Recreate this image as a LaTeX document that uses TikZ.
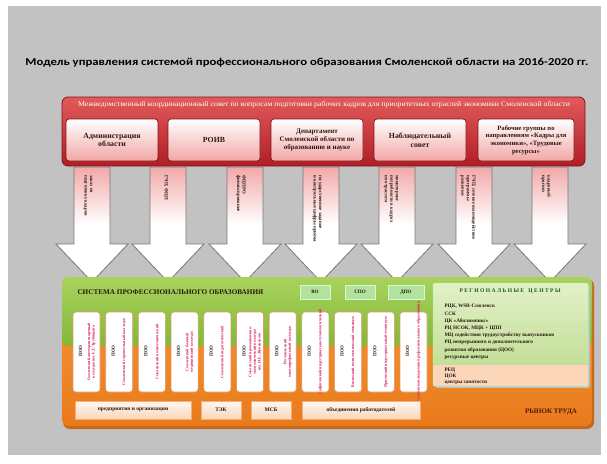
\documentclass[tikz,border=0pt]{standalone}
\usepackage{fontspec}
\setmainfont{Liberation Serif}
\newfontfamily\titlefont{Carlito}
\definecolor{bggray}{HTML}{C2C2C2}
\definecolor{redtop}{HTML}{E25A5A}
\definecolor{redbot}{HTML}{B01E26}
\definecolor{redline}{HTML}{7E1418}
\definecolor{pinkb}{HTML}{F2A6A6}
\definecolor{arrpink}{HTML}{F2A8A8}
\definecolor{arrline}{HTML}{777777}
\definecolor{greentop}{HTML}{A9D25C}
\definecolor{greenbot}{HTML}{82B83A}
\definecolor{orangetop}{HTML}{F59A3C}
\definecolor{orangebot}{HTML}{E97A1C}
\definecolor{colline}{HTML}{E39A6A}
\definecolor{coltext}{HTML}{D8175A}
\definecolor{regtop}{HTML}{E2F0C8}
\definecolor{regbot}{HTML}{C3DF98}
\definecolor{peach}{HTML}{FBD6B8}
\definecolor{darktext}{HTML}{2A1A10}
\pgfdeclareverticalshading{arrshade}{100bp}{color(0bp)=(white); color(50bp)=(white); color(75bp)=(arrpink); color(100bp)=(arrpink)}
\begin{document}
\begin{tikzpicture}[x=1pt,y=-1pt,
  inbox/.style={draw=redline, line width=0.7pt, rounded corners=3pt, top color=white, bottom color=pinkb,
    minimum width=92pt, minimum height=42pt, align=center, text=darktext,
    font=\bfseries\fontsize{7.8}{8.6}\selectfont},
  arrowshape/.style={draw=arrline, line width=0.8pt, shading=arrshade},
  arrtext/.style={rotate=-90, anchor=west, align=left, text=darktext, font=\bfseries\fontsize{4.8}{5.4}\selectfont},
  colbox/.style={draw=colline, line width=0.6pt, rounded corners=3pt, fill=white, minimum width=27pt, minimum height=80pt},
  collabel/.style={rotate=90, font=\bfseries\fontsize{4.8}{5}\selectfont, text=darktext},
  coltxt/.style={rotate=90, align=center, font=\bfseries\fontsize{4}{4.6}\selectfont, text=coltext},
  smallbox/.style={draw=white!80!green, line width=0.5pt, fill=white!85!yellow!70!green, minimum height=14pt,
    font=\bfseries\fontsize{5}{6}\selectfont, text=darktext},
  botbox/.style={draw=orangebot!60!white, line width=0.5pt, top color=white!80!peach, bottom color=peach,
    minimum height=18pt, font=\bfseries\fontsize{5.5}{6}\selectfont, text=darktext},
  reglist/.style={anchor=west, font=\bfseries\fontsize{5.2}{5.6}\selectfont, text=darktext}]
\useasboundingbox (0,0) rectangle (607,463);
\fill[white] (0,0) rectangle (607,463);
\fill[bggray] (8,6) rectangle (601,455);

% title
\node[font=\titlefont\bfseries\fontsize{10.6}{12}\selectfont, text=black, xscale=1.2] (title) at (307,63)
  {Модель управления системой профессионального образования Смоленской области на 2016-2020 гг.};

% red council box
\draw[redline, line width=0.8pt, rounded corners=6pt, top color=redtop, bottom color=redbot] (62,97) rectangle (585,166);
\node[text=white, font=\fontsize{7.2}{8}\selectfont, xscale=1.09] (council) at (324,105)
  {Межведомственный координационный совет по вопросам подготовки рабочих кадров для приоритетных отраслей экономики Смоленской области};
\node[inbox] (b1) at (112,140) {Администрация\\области};
\node[inbox] (b2) at (214,140) {РОИВ};
\node[inbox, font=\bfseries\fontsize{7}{8}\selectfont] (b3) at (317,140) {Департамент\\Смоленской области по\\образованию и науке};
\node[inbox] (b4) at (420,140) {Наблюдательный\\совет};
\node[inbox, minimum width=96pt, font=\bfseries\fontsize{6.6}{7.6}\selectfont] (b5) at (526,140) {Рабочие группы по\\направлениям «Кадры для\\экономики», «Трудовые\\ресурсы»};

% arrows
\foreach \cx/\nm in {92/a1,168/a2,245/a3,321/a4,397/a5,474/a6,550/a7}{
  \draw[arrowshape] (\cx-18,167) -- (\cx+18,167) -- (\cx+18,244) -- (\cx+36,244) -- (\cx,282)
     -- (\cx-36,244) -- (\cx-18,244) -- cycle;
  \coordinate (\nm) at (\cx,172);
}
\node[arrtext] (t1) at ([xshift=-4pt]a1) {заказ на\\подготовку кадров};
\node[arrtext] (t2) at ([xshift=-2pt]a2) {ГЧП, ФЦП};
\node[arrtext] (t3) at ([xshift=-4pt]a3) {ФЦПРО\\финансирование};
\node[arrtext] (t4) at ([xshift=-4pt]a4) {государственное задание\\и контрольные цифры приема};
\node[arrtext] (t5) at ([xshift=-6pt]a5) {мониторинг\\потребности в кадрах\\по отраслям};
\node[arrtext] (t6) at ([xshift=-6pt]a6) {ГЧП, сетевое взаимодействие\\программы\\развития};
\node[arrtext] (t7) at ([xshift=-4pt]a7) {кадровый\\прогноз};

% orange market panel and green system panel
\fill[orangebot!85!black, rounded corners=7pt] (63,279) rectangle (594,429);
\shade[top color=orangetop, bottom color=orangebot, rounded corners=7pt] (62,277) rectangle (592,426);
\shade[top color=greentop, bottom color=greenbot, rounded corners=7pt] (62,277) -- (592,277) -- (592,346) -- (62,346) -- cycle;
\node[anchor=west, font=\bfseries\fontsize{7.2}{8}\selectfont, text=darktext] (sys) at (74,292)
  {СИСТЕМА ПРОФЕССИОНАЛЬНОГО ОБРАЗОВАНИЯ};
\node[smallbox, minimum width=30pt] (vo) at (315,292) {ВО};
\node[smallbox, minimum width=30pt] (spo) at (360,292) {СПО};
\node[smallbox, minimum width=36pt] (dpo) at (406,292) {ДПО};

% regional centres box
\fill[black!25, rounded corners=2pt] (435,285) rectangle (590,388);
\shade[top color=regtop, bottom color=regbot, rounded corners=2pt] (433,283) rectangle (588,365);
\fill[peach] (433,365) rectangle (588,386);
\draw[white!70!green, line width=0.5pt, rounded corners=2pt] (433,283) rectangle (588,386);
\node[font=\bfseries\fontsize{5.6}{6}\selectfont, text=darktext!70!green] (regtitle) at (510,291)
  {Р Е Г И О Н А Л Ь Н Ы Е \ \ Ц Е Н Т Р Ы};
\foreach \ln [count=\i] in {{РЦК, WSR-Смоленск},{ССК},{ЦК «Абилимпикс»},{РЦ НСОК, МЦК + ЦПП},
  {МЦ содействия трудоустройству выпускников},{РЦ непрерывного и дополнительного},
  {развития образования (ЦОО)},{ресурсные центры}}{
  \node[reglist] (r\i) at (441,299+7.3*\i) {\ln};
}
\node[reglist] (p1) at (441,370) {РЕЦ};
\node[reglist] (p2) at (441,376.5) {ЦОК};
\node[reglist] (p3) at (441,383) {центры занятости};

% college columns
\foreach \lab/\txt [count=\i] in {
  ПОО/{Смоленский автотранспортный\\колледж им. Е.Г. Трубицына},
  ПОО/{Смоленский строительный колледж},
  ПОО/{Смоленский политехнический},
  ПОО/{Смоленский базовый\\медицинский колледж},
  ПОО/{Смоленский педагогический},
  ПОО/{Смоленский промышленно-\\экономический колледж\\им. Н.Е. Жуковского},
  ПОО/{Рославльский\\многопрофильный колледж},
  ПОО/{Сафоновский индустриально-технологический},
  ПОО/{Вяземский политехнический техникум},
  ПОО/{Ярцевский индустриальный техникум},
  ПОО/{Смоленская академия профессионального образования}}{
  \pgfmathsetmacro{\cx}{86.5+32.7*(\i-1)}
  \node[colbox] (c\i) at (\cx,352) {};
  \node[collabel] (cl\i) at (\cx-6,351) {\lab};
  \node[coltxt] (ct\i) at (\cx+5,352) {\txt};
}

% bottom boxes
\node[botbox, minimum width=116pt] (pred) at (133,410) {предприятия и организации};
\node[botbox, minimum width=40pt] (tek) at (221,410) {ТЭК};
\node[botbox, minimum width=40pt] (msb) at (271,410) {МСБ};
\node[botbox, minimum width=118pt] (obed) at (361,410) {объединения работодателей};
\node[font=\bfseries\fontsize{7}{8}\selectfont, text=darktext!80!red] (market) at (551,412) {РЫНОК ТРУДА};
\end{tikzpicture}
\end{document}
